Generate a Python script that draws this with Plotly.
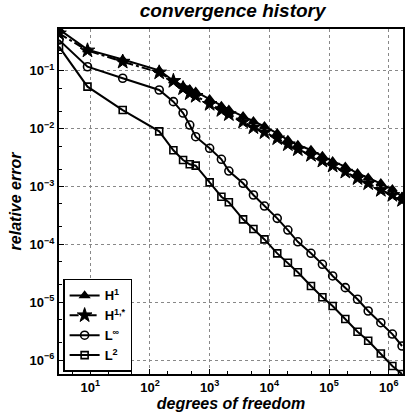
import plotly.graph_objects as go

dofs = [3, 9, 35, 143, 247, 359, 464, 584, 1000, 1573, 2097, 3630, 5410, 8280,
        13550, 20420, 29970, 49750, 77300, 114800, 187000, 299700, 451900,
        735700, 1148000, 1667000]

err_h1 = [0.519, 0.231, 0.156, 0.1016, 0.0671, 0.0544, 0.0477, 0.0434, 0.0322,
          0.0246, 0.0212, 0.0163, 0.0134, 0.01096, 0.0083, 0.00635, 0.00521,
          0.00427, 0.00336, 0.00272, 0.0022, 0.00169, 0.00142, 0.001135,
          0.000895, 0.000667]

err_h1s = [0.44, 0.223, 0.143, 0.093, 0.0664, 0.0497, 0.0407, 0.0366, 0.0266,
           0.0209, 0.0177, 0.0132, 0.0105, 0.00863, 0.00679, 0.00535, 0.00439,
           0.0035, 0.00279, 0.00229, 0.0018, 0.00139, 0.001135, 0.00087,
           0.000713, 0.000585]

err_linf = [0.339, 0.117, 0.074, 0.0464, 0.0292, 0.0186, 0.01153, 0.00725,
            0.00457, 0.00295, 0.00185, 0.001135, 0.000713, 0.00046, 0.000282,
            0.000177, 0.000111, 7.02e-5, 4.53e-5, 2.85e-5, 1.79e-5, 1.13e-5,
            7.08e-6, 4.45e-6, 2.83e-6, 1.76e-6]

err_l2 = [0.26, 0.053, 0.0209, 0.00897, 0.00422, 0.00287, 0.00242, 0.00229,
          0.00118, 0.000667, 0.000534, 0.000271, 0.000185, 0.000122, 7.0e-5,
          4.83e-5, 3.3e-5, 1.91e-5, 1.22e-5, 8.63e-6, 5.15e-6, 3.11e-6,
          2.17e-6, 1.31e-6, 7.94e-7, 5.78e-7]

x_tickvals = [1e1, 1e2, 1e3, 1e4, 1e5, 1e6]
x_ticktext = ["10<sup>1</sup>", "10<sup>2</sup>", "10<sup>3</sup>",
              "10<sup>4</sup>", "10<sup>5</sup>", "10<sup>6</sup>"]
y_tickvals = [1e-1, 1e-2, 1e-3, 1e-4, 1e-5, 1e-6]
y_ticktext = ["10<sup>−1</sup>", "10<sup>−2</sup>", "10<sup>−3</sup>",
              "10<sup>−4</sup>", "10<sup>−5</sup>", "10<sup>−6</sup>"]

FONT = "Liberation Sans, Arial, sans-serif"

fig = go.Figure()
fig.add_trace(go.Scatter(
    x=dofs, y=err_h1, name="<b>H<sup>1</sup></b>", mode="lines+markers",
    line=dict(color="black", width=2),
    marker=dict(symbol="triangle-up", size=8, color="black",
                line=dict(color="black", width=1.5))))
fig.add_trace(go.Scatter(
    x=dofs, y=err_h1s, name="<b>H<sup>1,*</sup></b>", mode="lines+markers",
    line=dict(color="black", width=2, dash="dashdot"),
    marker=dict(symbol="star", size=11, color="black",
                line=dict(color="black", width=1))))
fig.add_trace(go.Scatter(
    x=dofs, y=err_linf, name="<b>L<sup>∞</sup></b>", mode="lines+markers",
    line=dict(color="black", width=2),
    marker=dict(symbol="circle-open", size=8, color="black",
                line=dict(color="black", width=1.6))))
fig.add_trace(go.Scatter(
    x=dofs, y=err_l2, name="<b>L<sup>2</sup></b>", mode="lines+markers",
    line=dict(color="black", width=2),
    marker=dict(symbol="square-open", size=7, color="black",
                line=dict(color="black", width=1.6))))

axis_common = dict(
    type="log", showline=True, linecolor="black", linewidth=2, mirror=True,
    ticks="inside", ticklen=5, tickcolor="black", tickwidth=1,
    showgrid=True, gridcolor="#888888", griddash="dot", gridwidth=1,
    zeroline=False,
    tickfont=dict(family=FONT, size=13, color="black", weight="bold"),
    minor=dict(ticks="inside", ticklen=3, tickcolor="black", showgrid=False),
)

fig.update_layout(
    width=406, height=419,
    margin=dict(l=59, r=1, t=29, b=45),
    paper_bgcolor="white", plot_bgcolor="white",
    title=dict(text="<b><i>convergence history</i></b>", x=0.573, xanchor="center",
               y=0.99, yanchor="top",
               font=dict(family=FONT, size=19, color="black")),
    xaxis=dict(axis_common, range=[0.4771, 6.238], tickvals=x_tickvals,
               ticktext=x_ticktext,
               title=dict(text="<b><i>degrees of freedom</i></b>", standoff=0,
                          font=dict(family=FONT, size=16, color="black"))),
    yaxis=dict(axis_common, range=[-6.238, -0.28], tickvals=y_tickvals,
               ticktext=y_ticktext,
               title=dict(text="<b><i>relative error</i></b>", standoff=4,
                          font=dict(family=FONT, size=16, color="black"))),
    legend=dict(x=0.012, y=0.006, xanchor="left", yanchor="bottom",
                bgcolor="white", bordercolor="black", borderwidth=1.5,
                font=dict(family=FONT, size=13, color="black"),
                itemwidth=30, tracegroupgap=0),
    showlegend=True,
)

fig.write_html("out.html")
